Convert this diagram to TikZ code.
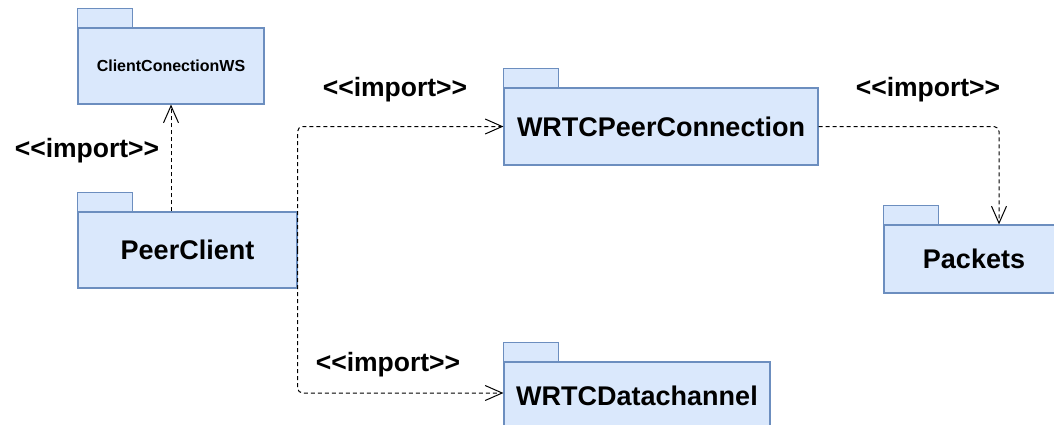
\documentclass[tikz,border=0pt]{standalone}
\usepackage{fontspec}
\setmainfont{Liberation Sans}
\usetikzlibrary{arrows.meta}
\definecolor{pkgfill}{HTML}{DAE8FC}
\definecolor{pkgline}{HTML}{6C8EBF}
% stereotype text, kerned so << and >> stay two characters
\newcommand{\stereo}[1]{<\kern0pt<#1>\kern0pt>}
\tikzset{
	pkg/.style={draw=pkgline,fill=pkgfill,line width=1.2pt,inner sep=0pt,
		font=\bfseries\fontsize{27}{30}\selectfont},
	pkgtab/.style={draw=pkgline,fill=pkgfill,line width=1.2pt},
	imp/.style={dash pattern=on 4pt off 3pt,line width=1pt,rounded corners=5pt,
		-{Straight Barb[length=17pt,width=15pt,line width=1pt]}},
	implabel/.style={font=\bfseries\fontsize{26.5}{30}\selectfont}
}
\begin{document}
\begin{tikzpicture}[x=1pt,y=-1pt]
		\path[use as bounding box,clip] (0,0) rectangle (1054,424);
		% packages
		\node[pkg,minimum width=186pt,minimum height=76pt,font=\bfseries\fontsize{16}{18}\selectfont] (ws) at (171,66) {ClientConectionWS};
		\node[pkg,minimum width=219pt,minimum height=76pt] (peer) at (187.5,250) {PeerClient};
		\node[pkg,minimum width=314pt,minimum height=77pt] (conn) at (661,126.5) {WRTCPeerConnection};
		\node[pkg,minimum width=266pt,minimum height=76pt] (chan) at (637,400) {\raisebox{9pt}{WRTCDatachannel}};
		\node[pkg,minimum width=180pt,minimum height=68pt] (packets) at (974,259) {Packets};
		\foreach \p in {ws,peer,conn,chan,packets}
			\draw[pkgtab] (\p.north west) rectangle ++(55,-19);
		% imports
		\draw[imp] (ws.south |- peer.north) -- (ws.south);
		\draw[imp] (peer.east) |- (conn.west);
		\draw[imp] (peer.east) |- ([yshift=7pt]chan.west);
		\draw[imp] (conn.east) -| ([xshift=25pt]packets.north);
		\node[implabel] (l1) at (87,151) {\stereo{import}};
		\node[implabel] (l2) at (395,90) {\stereo{import}};
		\node[implabel] (l3) at (388,365) {\stereo{import}};
		\node[implabel] (l4) at (928,90) {\stereo{import}};
\end{tikzpicture}
\end{document}
